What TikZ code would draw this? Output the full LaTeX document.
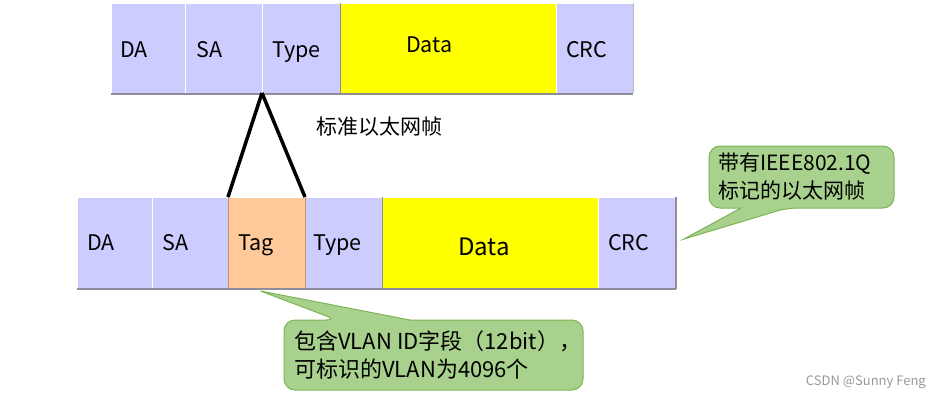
\documentclass[tikz,border=0pt]{standalone}
\usepackage{fontspec}
\setmainfont{Noto Sans CJK SC}
\usetikzlibrary{calc}
\definecolor{lav}{RGB}{204,204,255}
\definecolor{ylw}{RGB}{255,255,0}
\definecolor{peach}{RGB}{255,201,153}
\definecolor{cfill}{RGB}{169,209,142}
\definecolor{cdraw}{RGB}{125,180,85}
\definecolor{shade}{RGB}{140,140,155}
\definecolor{tagedge}{RGB}{190,150,110}
\begin{document}
\begin{tikzpicture}[x=1pt,y=-1pt,
  cell/.style={draw=white, line width=0.6pt, inner sep=0pt, outer sep=0pt, anchor=north west},
  topcell/.style={cell, minimum height=90pt},
  botcell/.style={cell, minimum height=91pt},
  lbl/.style={anchor=base west, inner sep=0pt, font=\fontsize{21.5}{24}\selectfont},
  biglbl/.style={anchor=base, inner sep=0pt, font=\fontsize{24}{28}\selectfont},
  shadowline/.style={draw=shade, line width=2pt},
  sepline/.style={draw=shade, line width=0.8pt},
  link/.style={draw=black, line width=3.5pt},
  callout/.style={fill=cfill, draw=cdraw, line width=1pt},
  ctext/.style={anchor=west, inner sep=0pt, align=left, font=\fontsize{21}{28}\selectfont},
  plain/.style={inner sep=0pt, font=\fontsize{21}{24}\selectfont},
  wmark/.style={inner sep=0pt, text=gray!80, font=\fontsize{13}{15}\selectfont}
]
\useasboundingbox (0,0) rectangle (940,400);

% ---------- top frame ----------
\node[topcell, fill=lav, minimum width=74pt] (da1) at (111,3) {};
\node[topcell, fill=lav, minimum width=77pt] (sa1) at (da1.north east) {};
\node[topcell, fill=lav, minimum width=78pt] (ty1) at (sa1.north east) {};
\node[topcell, fill=ylw, minimum width=216pt] (dt1) at (ty1.north east) {};
\node[topcell, fill=lav, minimum width=77pt] (cr1) at (dt1.north east) {};
\draw[sepline] (dt1.north west) -- (dt1.south west);
\draw[shadowline] ($(da1.south west)+(0,1)$) -- ($(cr1.south east)+(0,1)$);
\draw[draw=shade!60, line width=1pt] (cr1.north east) -- (cr1.south east);

\node[lbl] (da1t) at ($(da1.west)+(9,9)$) {DA};
\node[lbl] (sa1t) at ($(sa1.west)+(11,9)$) {SA};
\node[lbl] (ty1t) at ($(ty1.west)+(10,9)$) {Type};
\node[lbl] (dt1t) at ($(dt1.west)+(66,4)$) {Data};
\node[lbl] (cr1t) at ($(cr1.west)+(10,9)$) {CRC};

% ---------- bottom frame ----------
\node[botcell, fill=lav, minimum width=75pt] (da2) at (77,197) {};
\node[botcell, fill=lav, minimum width=76pt] (sa2) at (da2.north east) {};
\node[botcell, fill=peach, minimum width=77pt] (tg2) at (sa2.north east) {};
\node[botcell, fill=lav, minimum width=77pt] (ty2) at (tg2.north east) {};
\node[botcell, fill=ylw, minimum width=216pt] (dt2) at (ty2.north east) {};
\node[botcell, fill=lav, minimum width=77pt] (cr2) at (dt2.north east) {};
\draw[draw=tagedge, line width=0.8pt] (tg2.north west) -- (tg2.south west)
  (tg2.north east) -- (tg2.south east);
\draw[sepline] (dt2.north west) -- (dt2.south west);
\draw[shadowline] ($(da2.south west)+(0,1)$) -- ($(cr2.south east)+(1,1)$);
\draw[shadowline] ($(cr2.north east)+(1,0)$) -- ($(cr2.south east)+(1,1)$);

\node[lbl] (da2t) at ($(da2.west)+(10,8)$) {DA};
\node[lbl] (sa2t) at ($(sa2.west)+(10,8)$) {SA};
\node[lbl] (tg2t) at ($(tg2.west)+(10,8)$) {Tag};
\node[lbl] (ty2t) at ($(ty2.west)+(8,8)$) {Type};
\node[biglbl] (dt2t) at ($(dt2.center)+(-6,13)$) {Data};
\node[lbl] (cr2t) at ($(cr2.west)+(10,8)$) {CRC};

% ---------- links ----------
\draw[link] (ty1.south west) -- (tg2.north west);
\draw[link] (ty1.south west) -- (tg2.north east);

\node[plain, anchor=west] (std) at (316,127) {标准以太网帧};

% ---------- callout 1 ----------
\coordinate (p1) at ($(cr2.east)+(9,-3.5)$);
\draw[callout] (800,146) [rounded corners=11pt] -- (894,146) -- (894,208) -- (787,208)
  [sharp corners] -- (p1) -- (741,208) [rounded corners=11pt] -- (709,208) -- (709,146) -- cycle;
\node[ctext] (c1) at (718,177) {带有IEEE802.1Q\\标记的以太网帧};

% ---------- callout 2 ----------
\coordinate (p2) at ($(tg2.south)+(-6,3)$);
\draw[callout] (450,320) [rounded corners=11pt] -- (583,320) -- (583,390) -- (284,390) -- (284,320) -- (337,320)
  [sharp corners] -- (p2) -- (410,320) [rounded corners=11pt] -- cycle;
\node[ctext, font=\fontsize{22}{28}\selectfont] (c2) at (294,355) {包含VLAN ID字段（12bit），\\可标识的VLAN为4096个};

\node[wmark, anchor=east] (wm) at (926,382) {CSDN @Sunny Feng};
\end{tikzpicture}
\end{document}
